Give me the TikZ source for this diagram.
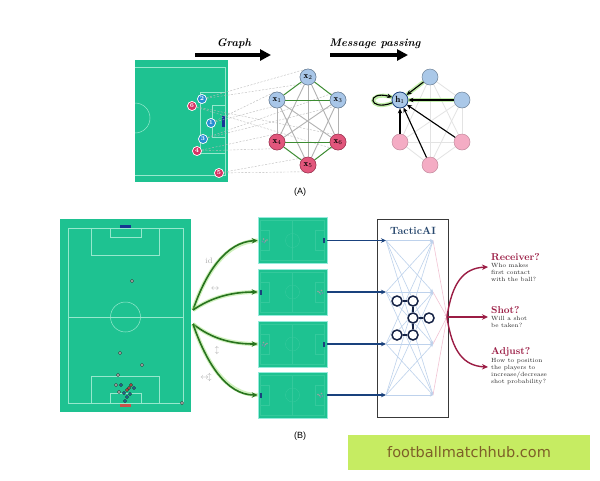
\documentclass[tikz,border=0pt]{standalone}
\usepackage{fontspec}
\newfontfamily\sansA{Liberation Sans}
\newfontfamily\wmfont{DejaVu Sans}
\usetikzlibrary{arrows.meta}
\definecolor{pitch}{RGB}{30,194,145}
\definecolor{pline}{RGB}{150,232,205}
\definecolor{spline}{RGB}{52,201,156}
\definecolor{spborder}{RGB}{150,235,220}
\definecolor{tblue}{RGB}{40,140,210}
\definecolor{tred}{RGB}{214,50,100}
\definecolor{gblue}{RGB}{168,198,232}
\definecolor{gred}{RGB}{226,86,124}
\definecolor{mblue}{RGB}{170,200,232}
\definecolor{mpink}{RGB}{244,172,196}
\definecolor{egreen}{RGB}{60,140,50}
\definecolor{hgreen}{RGB}{150,225,110}
\definecolor{agreen}{RGB}{40,115,30}
\definecolor{navy}{RGB}{25,65,125}
\definecolor{molnavy}{RGB}{22,35,70}
\definecolor{crimson}{RGB}{155,28,68}
\definecolor{ttitle}{RGB}{40,72,110}
\definecolor{nnblue}{RGB}{190,210,236}
\definecolor{nnpink}{RGB}{242,196,212}
\definecolor{wmbg}{RGB}{198,236,98}
\definecolor{wmtext}{RGB}{125,95,40}
\definecolor{goalred}{RGB}{200,80,75}
\tikzset{
  pl/.style={draw=pline, line width=0.5pt},
  spl/.style={draw=spline, line width=0.4pt},
  tb/.style={circle, fill=tblue, draw=white, line width=0.6pt, inner sep=0pt, minimum size=9pt, text=white, font=\fontsize{6}{6}\selectfont\bfseries},
  tr/.style={tb, fill=tred},
  gbn/.style={circle, fill=gblue, draw=gblue!65!black, line width=0.5pt, minimum size=16pt, inner sep=0pt, font=\fontsize{9}{9}\selectfont},
  grn/.style={gbn, fill=gred, draw=gred!70!black},
  mbn/.style={circle, fill=mblue, draw=mblue!65!black, line width=0.5pt, minimum size=16pt, inner sep=0pt, font=\fontsize{9}{9}\selectfont},
  mrn/.style={mbn, fill=mpink, draw=mpink!80!black},
  dline/.style={draw=gray!55, dash pattern=on 2pt off 1.5pt, line width=0.4pt},
  gedge/.style={draw=egreen, line width=1pt},
  kedge/.style={draw=gray!60, line width=0.9pt},
  ledge/.style={draw=gray!22, line width=0.8pt},
  marrow/.style={draw=black, line width=1.1pt, -{Stealth[length=5pt,width=4.5pt]}},
  halo/.style={preaction={draw=hgreen, line width=4pt, opacity=0.6, arrows=-}},
  bigarrow/.style={draw=black, line width=3.5pt, -{Triangle[length=11pt,width=11pt]}},
  toplab/.style={font=\fontsize{11}{11}\selectfont\bfseries\itshape},
  partlab/.style={font=\sansA\fontsize{9}{9}\selectfont},
  dot/.style={circle, fill=gray!55, draw=gray!30!black, line width=0.3pt, inner sep=0pt, minimum size=3.4pt},
  bdot/.style={dot, fill=tblue!80!black},
  rdot/.style={dot, fill=goalred},
  spitch/.style={rectangle, fill=pitch, draw=spborder, line width=0.6pt, minimum width=69pt, minimum height=46pt, inner sep=0pt},
  garrow/.style={draw=agreen, line width=1.6pt, -{Stealth[length=6pt,width=5.5pt]}, preaction={draw=hgreen, line width=4pt, opacity=0.45, arrows=-}},
  glab/.style={text=gray!65, font=\fontsize{8}{8}\selectfont},
  barrow/.style={draw=navy, line width=1.2pt, -{Stealth[length=5pt,width=4.5pt]}},
  nnedge/.style={draw=nnblue, line width=0.6pt, -{Stealth[length=3pt,width=3pt]}},
  pnedge/.style={draw=nnpink, line width=0.6pt, -{Stealth[length=3pt,width=3pt]}},
  mol/.style={circle, draw=molnavy, fill=white, line width=1.5pt, minimum size=10pt, inner sep=0pt},
  moledge/.style={draw=molnavy, line width=1.5pt},
  rarrow/.style={draw=crimson, line width=1.4pt, -{Stealth[length=6pt,width=5.5pt]}},
  qtitle/.style={anchor=west, text=crimson, font=\fontsize{10}{10}\selectfont\bfseries, inner sep=0pt},
  qsub/.style={anchor=north west, align=left, inner sep=0pt, text=black!85, font=\fontsize{6}{7}\selectfont},
}
\begin{document}
\begin{tikzpicture}[x=1pt,y=-1pt]
\fill[white] (0,0) rectangle (600,480);
\useasboundingbox (0,0) rectangle (600,480);

% ===================== (A) =====================
\fill[pitch] (135,60) rectangle (228,182);
\begin{scope}
  \clip (135,60) rectangle (228,182);
  \draw[pl] (130,67) -- (225,67) -- (225,175) -- (130,175);
  \draw[pl] (225,92) -- (200,92) -- (200,153) -- (225,153);
  \draw[pl] (225,105) -- (212,105) -- (212,137) -- (225,137);
  \draw[pl] (135,118) circle (15pt);
\end{scope}
\fill[navy!80!blue] (221.5,116) rectangle (224.5,127);

% graph nodes
\node[gbn] (x2) at (308,77) {$\mathbf{x}_2$};
\node[gbn] (x1) at (277,100) {$\mathbf{x}_1$};
\node[gbn] (x3) at (338,100) {$\mathbf{x}_3$};
\node[grn] (x4) at (277,142) {$\mathbf{x}_4$};
\node[grn] (x6) at (338,142) {$\mathbf{x}_6$};
\node[grn] (x5) at (308,165) {$\mathbf{x}_5$};

% players
\node[tb] (p2) at (202,99) {2};
\node[tr] (p6) at (192,106) {6};
\node[tb] (p1) at (211,123) {1};
\node[tb] (p3) at (203,139) {3};
\node[tr] (p4) at (197,151) {4};
\node[tr] (p5) at (219,173) {5};

\foreach \i in {1,...,6}{
  \draw[dline] (p\i) -- (x\i.115);
  \draw[dline] (p\i) -- (x\i.235);
}

\node[tb] at (p2) {2};
\node[tr] at (p6) {6};
\node[tb] at (p1) {1};
\node[tb] at (p3) {3};
\node[tr] at (p4) {4};
\node[tr] at (p5) {5};

% graph edges
\foreach \a/\b in {1/4,1/5,1/6,2/4,2/5,2/6,3/4,3/5,3/6}{
  \draw[kedge] (x\a) -- (x\b);
}
\foreach \a/\b in {1/2,2/3,1/3,4/5,5/6,4/6}{
  \draw[gedge] (x\a) -- (x\b);
}
\node[gbn] at (x2) {$\mathbf{x}_2$};
\node[gbn] at (x1) {$\mathbf{x}_1$};
\node[gbn] at (x3) {$\mathbf{x}_3$};
\node[grn] at (x4) {$\mathbf{x}_4$};
\node[grn] at (x6) {$\mathbf{x}_6$};
\node[grn] at (x5) {$\mathbf{x}_5$};

% message passing graph
\coordinate (c1) at (400,100);
\coordinate (c2) at (430,77);
\coordinate (c3) at (462,100);
\coordinate (c4) at (400,142);
\coordinate (c5) at (430,165);
\coordinate (c6) at (462,142);
\foreach \a/\b in {1/2,1/3,1/4,1/5,1/6,2/3,2/4,2/5,2/6,3/4,3/5,3/6,4/5,4/6,5/6}{
  \draw[ledge] (c\a) -- (c\b);
}
\node[mbn, draw=navy, line width=0.8pt] (m1) at (c1) {$\mathbf{h}_1$};
\node[mbn] (m2) at (c2) {};
\node[mbn] (m3) at (c3) {};
\node[mrn] (m4) at (c4) {};
\node[mrn] (m5) at (c5) {};
\node[mrn] (m6) at (c6) {};
\draw[marrow, halo] (m2) -- (m1);
\draw[marrow, halo] (m3) -- (m1);
\draw[marrow] (m4) -- (m1);
\draw[marrow] (m5) -- (m1);
\draw[marrow] (m6) -- (m1);
\draw[marrow, halo] (m1.200) .. controls (368,112) and (366,90) .. (m1.160);

% titles
\coordinate (g0) at (195,55);
\coordinate (g1) at (271,55);
\draw[bigarrow] (g0) -- (g1);
\node[toplab] (tg) at (234,44) {Graph};
\coordinate (h0) at (330,55);
\coordinate (h1) at (408,55);
\draw[bigarrow] (h0) -- (h1);
\node[toplab] (tm) at (375,44) {Message passing};
\node[partlab] (la) at (300,192) {(A)};

% ===================== (B) =====================
\fill[pitch] (60,219) rectangle (191,412);
\draw[pl] (68,228) rectangle (183,403);
\draw[pl] (68,317) -- (183,317);
\draw[pl] (125.5,317) circle (15pt);
\draw[pl] (91,228) rectangle (159,255);
\draw[pl] (110,228) rectangle (141,237);
\draw[pl] (91,376) rectangle (159,403);
\draw[pl] (110,393) rectangle (141,403);
\fill[navy!85!blue] (120,224.5) rectangle (131,227.5);
\fill[goalred] (120,404) rectangle (131,407);

\node[dot] (d1) at (132,281) {};
\node[dot] (d2) at (120,353) {};
\node[dot] (d3) at (142,365) {};
\node[dot] (d4) at (118,375) {};
\node[dot] (d5) at (182,403) {};
\node[dot] (d6) at (116,385) {};
\node[bdot] (d7) at (121,385) {};
\node[rdot] (d8) at (131,385) {};
\node[bdot] (d9) at (134,388) {};
\node[dot] (d10) at (119,392) {};
\node[bdot] (d11) at (124,393) {};
\node[rdot] (d12) at (127,390) {};
\node[bdot] (d13) at (130,394) {};
\node[bdot] (d14) at (127,397) {};
\node[bdot] (d15) at (125,401) {};
\node[rdot] (d16) at (129,388) {};

% small pitches
\foreach \i/\y/\s in {1/240.5/1, 2/292/-1, 3/344/1, 4/395/-1}{
  \node[spitch] (sp\i) at (292.5,\y) {};
  \begin{scope}[shift={(sp\i.center)}]
    \draw[spl] (-32,-20) rectangle (32,20);
    \draw[spl] (0,-20) -- (0,20);
    \draw[spl] (0,0) circle (7pt);
    \draw[spl] (-32,-10) rectangle (-23,10);
    \draw[spl] (23,-10) rectangle (32,10);
    \fill[navy] ({\s*31.5-0.9},-2.5) rectangle ({\s*31.5+0.9},2.5);
    \fill[gray!75] ({-\s*29},-1.5) circle (0.9pt);
    \fill[gray!75] ({-\s*27},0.5) circle (0.9pt);
    \fill[navy!60] ({-\s*28},2) circle (0.8pt);
    \fill[gray!75] ({-\s*25.5},-0.5) circle (0.8pt);
    \fill[navy!60] ({-\s*30},1) circle (0.8pt);
  \end{scope}
}

% green arrows
\coordinate (s1) at (193,310);
\coordinate (s2) at (193,324);
\draw[garrow] (s1) .. controls (206,272) and (226,242) .. (sp1.west);
\draw[garrow] (s1) .. controls (212,297) and (232,292) .. (sp2.west);
\draw[garrow] (s2) .. controls (212,339) and (232,344) .. (sp3.west);
\draw[garrow] (s2) .. controls (206,362) and (226,395) .. (sp4.west);
\node[glab] (lid) at (209,261) {id};
\node[glab] (llr) at (215,289) {$\leftrightarrow$};
\node[glab] (lud) at (217,350) {$\updownarrow$};
\node[glab] (lb) at (206,377) {$\leftrightarrow\!\updownarrow$};

% TacticAI box
\node[draw=gray!45!black, line width=0.8pt, minimum width=71pt, minimum height=198pt, inner sep=0pt] (tbox) at (412.5,318) {};
\node[text=ttitle, font=\fontsize{10.5}{10.5}\selectfont\bfseries] (ttl) at (413,231) {TacticAI};

\foreach \i/\y in {1/240.5,2/292,3/344,4/395}{
  \coordinate (L\i) at (386,\y);
  \coordinate (R\i) at (433,\y);
}
\coordinate (O) at (447,317);
\foreach \a in {1,...,4}{
  \foreach \b in {1,...,4}{
    \draw[nnedge] (L\a) -- (R\b);
  }
  \draw[pnedge] (R\a) -- (O);
}
\foreach \i in {1,...,4}{
  \draw[barrow] (sp\i.east) -- (L\i);
}

% molecule
\node[mol] (n1) at (397,301) {};
\node[mol] (n2) at (413,301) {};
\node[mol] (n3) at (413,318) {};
\node[mol] (n4) at (429,318) {};
\node[mol] (n5) at (397,335) {};
\node[mol] (n6) at (413,335) {};
\draw[moledge] (n1) -- (n2);
\draw[moledge] (n2) -- (n3);
\draw[moledge] (n3) -- (n4);
\draw[moledge] (n3) -- (n6);
\draw[moledge] (n5) -- (n6);

% outputs
\coordinate (q1) at (488,267);
\coordinate (q2) at (488,317);
\coordinate (q3) at (488,367);
\draw[rarrow] (O) .. controls (452,282) and (464,268) .. (q1);
\draw[rarrow] (O) -- (q2);
\draw[rarrow] (O) .. controls (452,352) and (464,366) .. (q3);

\node[qtitle] (t1) at (491,257) {Receiver?};
\node[qsub] (u1) at (491,263) {Who makes\\first contact\\with the ball?};
\node[qtitle] (t2) at (491,310) {Shot?};
\node[qsub] (u2) at (491,316) {Will a shot\\be taken?};
\node[qtitle] (t3) at (491,352) {Adjust?};
\node[qsub] (u3) at (491,358) {How to position\\the players to\\increase/decrease\\shot probability?};

\node[partlab] (lb2) at (300,436) {(B)};

% watermark
\node[fill=wmbg, minimum width=242pt, minimum height=35pt, inner sep=0pt, text=wmtext, font=\wmfont\fontsize{14.5}{14.5}\selectfont] (wm) at (469,452.5) {footballmatchhub.com};
\end{tikzpicture}
\end{document}
